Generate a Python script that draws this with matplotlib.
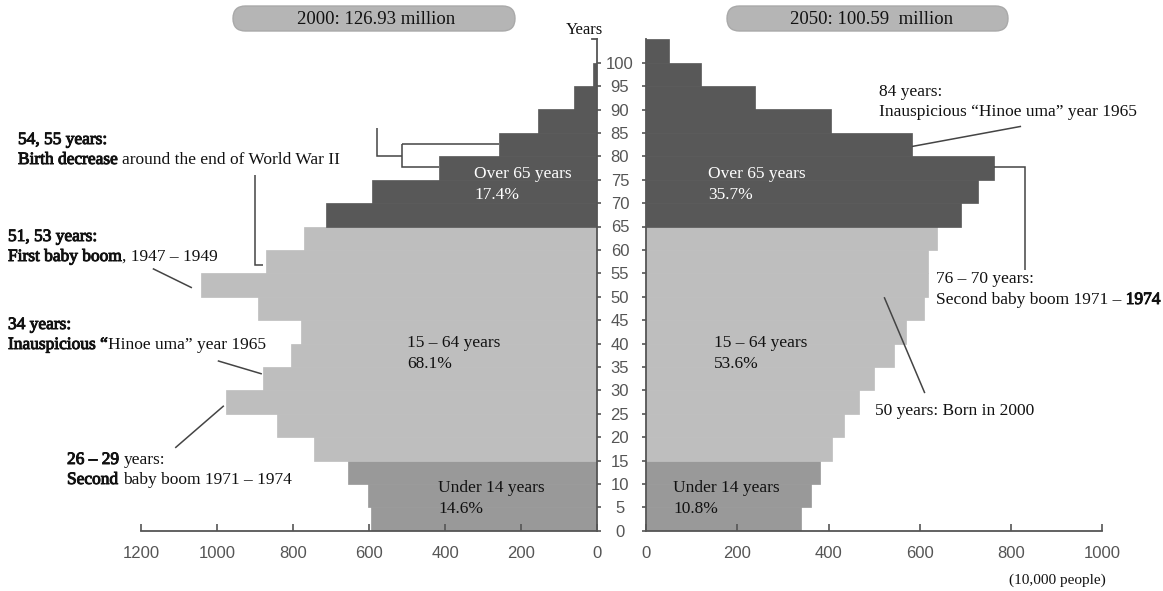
import matplotlib
matplotlib.use("Agg")
import matplotlib.pyplot as plt
import matplotlib.patheffects as pe
from matplotlib.patches import FancyBboxPatch

W, H = 1163, 591

# population by 5-year age group (10,000 people)
age_starts_2000 = list(range(0, 100, 5))
pop_2000 = [596, 603, 655, 746, 841, 976, 878, 806, 780, 893,
            1042, 871, 772, 712, 591, 416, 257, 156, 60, 11]
age_starts_2050 = list(range(0, 105, 5))
pop_2050 = [339, 361, 381, 407, 434, 467, 499, 543, 570, 610,
            617, 617, 637, 690, 727, 763, 583, 405, 239, 120, 51]

age_ticks = list(range(0, 101, 5))
ticks_2000 = [0, 200, 400, 600, 800, 1000, 1200]
ticks_2050 = [0, 200, 400, 600, 800, 1000]
titles = ["2000: 126.93 million", "2050: 100.59  million"]
group_names = ["Under 14 years", "15 \u2013 64 years", "Over 65 years"]
shares_2000 = ["14.6%", "68.1%", "17.4%"]
shares_2050 = ["10.8%", "53.6%", "35.7%"]

C_YOUNG = "#999999"
C_WORK = "#bebebe"
C_OLD = "#585858"
AXIS = "#555555"
LEADER = "#444444"
INK = "#111111"
SERIF = "Liberation Serif"
SANS = "Liberation Sans"


def age_color(a):
    if a < 15:
        return C_YOUNG
    if a < 65:
        return C_WORK
    return C_OLD


def pyramid_axes(fig, rect, ages, pop, xmax, ticks, side):
    ax = fig.add_axes(rect)
    cols = [age_color(a) for a in ages]
    ax.barh(ages, pop, height=5, align="edge", color=cols, edgecolor=cols, linewidth=0.5)
    ax.set_ylim(0, 105)
    if side == "left":
        ax.set_xlim(xmax, 0)
        keep, drop = "right", "left"
    else:
        ax.set_xlim(0, xmax)
        keep, drop = "left", "right"
    ax.spines["top"].set_visible(False)
    ax.spines[drop].set_visible(False)
    for s in ("bottom", keep):
        ax.spines[s].set_color(AXIS)
        ax.spines[s].set_linewidth(1.3)
    ax.set_xticks(ticks)
    ax.set_xticklabels([str(t) for t in ticks])
    ax.tick_params(axis="x", direction="in", length=5, width=1.2, color=AXIS,
                   labelsize=12, labelcolor=AXIS, pad=11)
    ax.set_yticks(age_ticks)
    if side == "left":
        ax.yaxis.tick_right()
        ax.tick_params(axis="y", direction="out", length=3, width=1.2, color=AXIS,
                       labelsize=12, labelcolor=AXIS, pad=13.5)
        ax.set_yticklabels([str(a) for a in age_ticks])
        for lbl in ax.get_yticklabels():
            lbl.set_horizontalalignment("center")
    else:
        ax.tick_params(axis="y", direction="out", length=3, width=1.2, color=AXIS,
                       labelleft=False)
    for lbl in ax.get_xticklabels() + ax.get_yticklabels():
        lbl.set_fontfamily(SANS)
    ax.patch.set_alpha(0)
    return ax


def leader(ax, xs, ys):
    ax.plot(xs, ys, color=LEADER, lw=1.1, clip_on=False, solid_capstyle="butt",
            solid_joinstyle="miter")


def text_width(ov, r, s, size):
    t = ov.text(0, 0, s, fontsize=size, family=SERIF)
    w = t.get_window_extent(r).width
    t.remove()
    return w


def text_line(fig, ov, x, y, parts, size=12.5):
    # runs laid out as if one regular string; heavy runs get a thin stroke
    r = fig.canvas.get_renderer()
    ref = text_width(ov, r, "x", size)
    prefix = ""
    for s, heavy in parts:
        lead = len(s) - len(s.lstrip())
        off = text_width(ov, r, prefix + s[:lead] + "x", size) - ref if (prefix or lead) else 0
        fx = [pe.withStroke(linewidth=0.7, foreground=INK)] if heavy else None
        ov.text(x + off, y, s.strip(), fontsize=size, family=SERIF, color=INK,
                ha="left", va="center", path_effects=fx)
        prefix += s


def main():
    fig = plt.figure(figsize=(W / 100, H / 100), dpi=100)
    fig.patch.set_facecolor("white")

    bottom = 1 - 530.7 / H
    height = 491.4 / H
    ax_l = pyramid_axes(fig, [141 / W, bottom, 456 / W, height],
                        age_starts_2000, pop_2000, 1200, ticks_2000, "left")
    ax_r = pyramid_axes(fig, [646 / W, bottom, 456.3 / W, height],
                        age_starts_2050, pop_2050, 1000, ticks_2050, "right")

    # small cap at the top of the age scale
    ax_l.plot([14, 0], [105, 105], color=AXIS, lw=1.3, clip_on=False)

    # leader lines, 2000
    leader(ax_l, [900, 900, 879], [76.1, 56.8, 56.8])
    leader(ax_l, [580, 580, 512], [86.1, 80.0, 80.0])
    leader(ax_l, [512, 512, pop_2000[16]], [82.7, 82.7, 82.7])
    leader(ax_l, [512, 512, pop_2000[15]], [82.7, 77.7, 77.7])
    leader(ax_l, [1169, 1066], [56.0, 51.9])
    leader(ax_l, [998, 882], [36.3, 33.5])
    leader(ax_l, [1110, 982], [17.7, 26.7])
    # leader lines, 2050
    leader(ax_r, [822, pop_2050[16]], [86.4, 82.1])
    leader(ax_r, [pop_2050[15], 831, 831], [77.7, 77.7, 55.8])
    leader(ax_r, [522, 611], [49.9, 29.4])

    # overlay in pixel units for titles and notes
    ov = fig.add_axes([0, 0, 1, 1])
    ov.set_xlim(0, W)
    ov.set_ylim(H, 0)
    ov.axis("off")

    for (x0, x1, tx), title in zip([(233, 515, 376), (727, 1008, 872)], titles):
        ov.add_patch(FancyBboxPatch((x0, 6), x1 - x0, 25,
                                    boxstyle="round,pad=0,rounding_size=12.5",
                                    facecolor="#b5b5b5", edgecolor="#a9a9a9", lw=1))
        ov.text(tx, 19, title, fontsize=13.5, family=SERIF, color=INK,
                ha="center", va="center")

    ov.text(584, 30, "Years", fontsize=12, family=SERIF, color=INK,
            ha="center", va="center")
    ov.text(1057, 580, "(10,000 people)", fontsize=11, family=SERIF, color=INK,
            ha="center", va="center")

    # group labels inside the bars
    spots_2000 = [(438, 488), (407, 343), (474, 174)]
    spots_2050 = [(673, 488), (714, 343), (708, 174)]
    for spots, shares in ((spots_2000, shares_2000), (spots_2050, shares_2050)):
        for (x, y), name, share in zip(spots, group_names, shares):
            col = "white" if name.startswith("Over") else INK
            ov.text(x, y, name, fontsize=12.5, family=SERIF, color=col, va="center")
            ov.text(x, y + 21, share, fontsize=12.5, family=SERIF, color=col, va="center")

    notes = [
        (18, 140, [("54, 55 years:", True)]),
        (18, 160, [("Birth decrease", True), (" around the end of World War II", False)]),
        (8, 237, [("51, 53 years:", True)]),
        (8, 257, [("First baby boom", True), (", 1947 \u2013 1949", False)]),
        (8, 325, [("34 years:", True)]),
        (8, 345, [("Inauspicious \u201c", True), ("Hinoe uma\u201d year 1965", False)]),
        (67, 460, [("26 \u2013 29", True), (" years:", False)]),
        (67, 480, [("Second", True), (" baby boom 1971 \u2013 1974", False)]),
        (879, 92, [("84 years:", False)]),
        (879, 112, [("Inauspicious \u201cHinoe uma\u201d year 1965", False)]),
        (936, 279, [("76 \u2013 70 years:", False)]),
        (936, 300, [("Second baby boom 1971 \u2013 ", False), ("1974", True)]),
        (875, 411, [("50 years: Born in 2000", False)]),
    ]
    for x, y, parts in notes:
        text_line(fig, ov, x, y, parts)

    fig.savefig("out.png", dpi=100, facecolor="white")


if __name__ == "__main__":
    main()
